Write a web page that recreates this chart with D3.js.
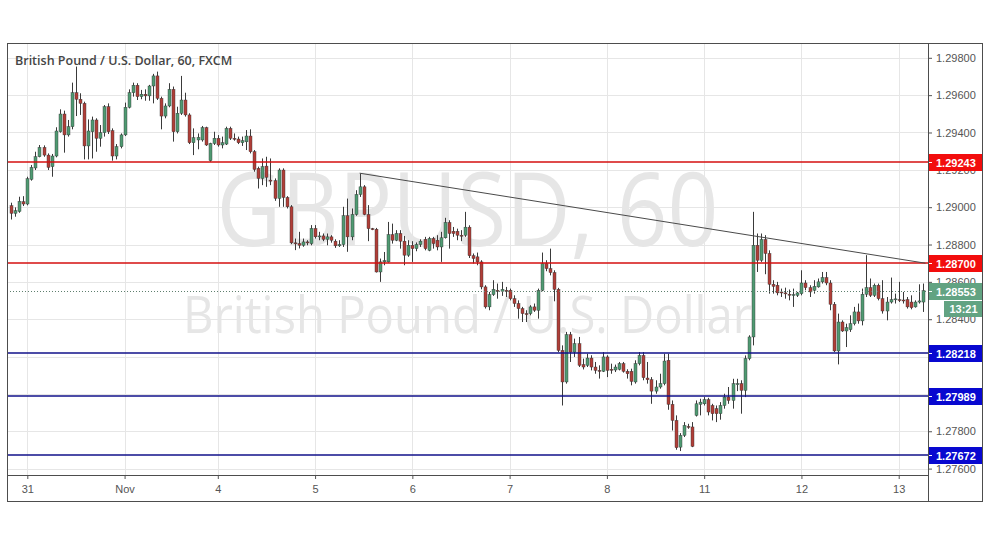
<!DOCTYPE html>
<html><head><meta charset="utf-8">
<script src="https://cdn.jsdelivr.net/npm/d3@7"></script>
<style>body{margin:0;background:#fff;}svg{display:block;}</style>
</head><body>
<svg id="c" width="991" height="539"></svg>
<script>
// ---- DATA (hourly candles, GBPUSD 60, FXCM) ----
const opens=[1.29008,1.28967,1.28977,1.29029,1.29017,1.29149,1.29210,1.29270,1.29320,1.29279,1.29217,1.29274,1.29404,1.29499,1.29387,1.29431,1.29613,1.29578,1.29556,1.29328,1.29404,1.29467,1.29369,1.29399,1.29538,1.29410,1.29274,1.29324,1.29387,1.29535,1.29613,1.29653,1.29592,1.29605,1.29596,1.29649,1.29703,1.29583,1.29488,1.29542,1.29631,1.29404,1.29503,1.29574,1.29494,1.29345,1.29360,1.29360,1.29426,1.29249,1.29341,1.29369,1.29333,1.29338,1.29422,1.29369,1.29365,1.29345,1.29350,1.29381,1.29297,1.29208,1.29154,1.29220,1.29145,1.29142,1.29047,1.29199,1.29052,1.29002,1.28809,1.28805,1.28796,1.28814,1.28805,1.28886,1.28841,1.28846,1.28828,1.28841,1.28818,1.28793,1.28800,1.28954,1.28841,1.28961,1.29068,1.29109,1.28961,1.28885,1.28882,1.28653,1.28707,1.28707,1.28853,1.28823,1.28859,1.28818,1.28743,1.28796,1.28778,1.28800,1.28828,1.28769,1.28832,1.28823,1.28787,1.28836,1.28918,1.28871,1.28871,1.28850,1.28850,1.28893,1.28740,1.28734,1.28707,1.28573,1.28466,1.28532,1.28555,1.28550,1.28555,1.28555,1.28510,1.28484,1.28457,1.28430,1.28430,1.28466,1.28448,1.28555,1.28698,1.28671,1.28650,1.28560,1.28233,1.28064,1.28317,1.28224,1.28269,1.28157,1.28153,1.28192,1.28144,1.28126,1.28121,1.28198,1.28132,1.28128,1.28132,1.28162,1.28121,1.28121,1.28064,1.28162,1.28206,1.28085,1.28076,1.28015,1.28037,1.28055,1.28180,1.27944,1.27858,1.27715,1.27778,1.27826,1.27823,1.27885,1.27944,1.27947,1.27969,1.27938,1.27921,1.27894,1.27938,1.27983,1.27965,1.28051,1.28055,1.28019,1.28189,1.28305,1.28796,1.28716,1.28827,1.28752,1.28587,1.28582,1.28546,1.28541,1.28534,1.28528,1.28528,1.28537,1.28594,1.28569,1.28555,1.28573,1.28600,1.28623,1.28594,1.28480,1.28230,1.28385,1.28337,1.28344,1.28376,1.28439,1.28391,1.28534,1.28569,1.28528,1.28582,1.28510,1.28444,1.28492,1.28505,1.28505,1.28503,1.28505,1.28492,1.28466,1.28492,1.28492];
const highs=[1.29024,1.28999,1.29056,1.29059,1.29163,1.29226,1.29297,1.29333,1.29331,1.29288,1.29285,1.29428,1.29524,1.29517,1.29467,1.29667,1.29753,1.29610,1.29565,1.29470,1.29485,1.29476,1.29440,1.29547,1.29556,1.29422,1.29338,1.29395,1.29560,1.29631,1.29667,1.29664,1.29628,1.29631,1.29655,1.29714,1.29726,1.29592,1.29556,1.29664,1.29646,1.29538,1.29703,1.29613,1.29503,1.29422,1.29395,1.29435,1.29431,1.29345,1.29404,1.29386,1.29378,1.29431,1.29431,1.29395,1.29378,1.29378,1.29413,1.29417,1.29306,1.29217,1.29261,1.29270,1.29261,1.29154,1.29208,1.29208,1.29059,1.29011,1.28832,1.28868,1.28832,1.28823,1.28904,1.28904,1.28868,1.28859,1.28859,1.28850,1.28828,1.28823,1.29002,1.29046,1.28993,1.29091,1.29180,1.29118,1.29011,1.28889,1.28889,1.28725,1.28760,1.28921,1.28912,1.28877,1.28877,1.28846,1.28823,1.28818,1.28811,1.28828,1.28841,1.28841,1.28841,1.28850,1.28868,1.28943,1.28930,1.28894,1.28885,1.28877,1.28975,1.28903,1.28752,1.28757,1.28716,1.28582,1.28546,1.28609,1.28591,1.28600,1.28573,1.28564,1.28528,1.28501,1.28466,1.28448,1.28475,1.28484,1.28564,1.28757,1.28716,1.28778,1.28662,1.28568,1.28260,1.28332,1.28332,1.28296,1.28305,1.28189,1.28215,1.28207,1.28171,1.28153,1.28224,1.28207,1.28162,1.28157,1.28171,1.28171,1.28132,1.28135,1.28180,1.28224,1.28224,1.28171,1.28090,1.28073,1.28108,1.28215,1.28215,1.27965,1.27885,1.27790,1.27849,1.27840,1.27849,1.27965,1.27974,1.27983,1.27979,1.27947,1.27938,1.27956,1.28001,1.28037,1.28081,1.28081,1.28073,1.28206,1.28314,1.28975,1.28859,1.28859,1.28850,1.28769,1.28609,1.28600,1.28564,1.28569,1.28559,1.28564,1.28546,1.28662,1.28609,1.28582,1.28609,1.28618,1.28653,1.28653,1.28609,1.28492,1.28430,1.28394,1.28376,1.28421,1.28466,1.28484,1.28564,1.28743,1.28618,1.28591,1.28591,1.28609,1.28519,1.28623,1.28537,1.28600,1.28546,1.28519,1.28528,1.28501,1.28587,1.28591];
const lows=[1.28934,1.28949,1.28970,1.29006,1.29010,1.29142,1.29199,1.29267,1.29270,1.29199,1.29163,1.29267,1.29399,1.29292,1.29378,1.29417,1.29488,1.29494,1.29256,1.29256,1.29261,1.29297,1.29324,1.29378,1.29392,1.29249,1.29256,1.29315,1.29381,1.29529,1.29592,1.29574,1.29578,1.29570,1.29570,1.29556,1.29574,1.29417,1.29476,1.29535,1.29351,1.29395,1.29494,1.29485,1.29338,1.29279,1.29310,1.29351,1.29328,1.29243,1.29333,1.29324,1.29315,1.29333,1.29360,1.29356,1.29338,1.29328,1.29306,1.29288,1.29190,1.29100,1.29118,1.29109,1.29118,1.29034,1.29002,1.29002,1.28993,1.28802,1.28770,1.28779,1.28788,1.28796,1.28796,1.28832,1.28823,1.28818,1.28796,1.28810,1.28782,1.28787,1.28787,1.28761,1.28823,1.28954,1.29055,1.28957,1.28818,1.28877,1.28650,1.28600,1.28689,1.28703,1.28805,1.28818,1.28778,1.28689,1.28734,1.28707,1.28764,1.28787,1.28769,1.28764,1.28778,1.28769,1.28707,1.28832,1.28778,1.28841,1.28823,1.28818,1.28841,1.28728,1.28698,1.28689,1.28560,1.28457,1.28448,1.28525,1.28510,1.28525,1.28519,1.28501,1.28466,1.28403,1.28385,1.28385,1.28421,1.28439,1.28403,1.28550,1.28657,1.28635,1.28496,1.28224,1.27938,1.28055,1.28171,1.28198,1.28144,1.28131,1.28144,1.28126,1.28108,1.28082,1.28117,1.28090,1.28108,1.28117,1.28126,1.28114,1.28082,1.28046,1.28055,1.28153,1.28073,1.28055,1.27947,1.28001,1.28028,1.28046,1.27915,1.27804,1.27701,1.27694,1.27769,1.27813,1.27715,1.27879,1.27885,1.27938,1.27885,1.27858,1.27849,1.27862,1.27921,1.27947,1.27921,1.28015,1.27894,1.27983,1.28180,1.28260,1.28653,1.28707,1.28641,1.28537,1.28537,1.28528,1.28519,1.28510,1.28501,1.28466,1.28519,1.28528,1.28555,1.28519,1.28537,1.28569,1.28591,1.28582,1.28448,1.28224,1.28158,1.28332,1.28251,1.28332,1.28367,1.28376,1.28367,1.28519,1.28519,1.28519,1.28501,1.28430,1.28394,1.28484,1.28484,1.28492,1.28484,1.28457,1.28453,1.28462,1.28484,1.28439];
const closes=[1.28967,1.28981,1.29031,1.29017,1.29152,1.29213,1.29270,1.29320,1.29279,1.29213,1.29274,1.29408,1.29499,1.29387,1.29431,1.29613,1.29578,1.29556,1.29328,1.29408,1.29467,1.29369,1.29399,1.29538,1.29404,1.29274,1.29324,1.29387,1.29535,1.29613,1.29653,1.29592,1.29605,1.29596,1.29649,1.29703,1.29583,1.29488,1.29542,1.29631,1.29404,1.29503,1.29574,1.29494,1.29345,1.29372,1.29374,1.29426,1.29333,1.29341,1.29369,1.29333,1.29345,1.29422,1.29369,1.29365,1.29345,1.29356,1.29381,1.29297,1.29202,1.29154,1.29217,1.29160,1.29142,1.29047,1.29199,1.29052,1.29002,1.28809,1.28805,1.28796,1.28814,1.28811,1.28886,1.28841,1.28846,1.28828,1.28841,1.28823,1.28793,1.28800,1.28954,1.28841,1.28961,1.29068,1.29109,1.28961,1.28885,1.28882,1.28653,1.28707,1.28714,1.28853,1.28823,1.28859,1.28818,1.28743,1.28796,1.28778,1.28800,1.28818,1.28778,1.28832,1.28805,1.28787,1.28836,1.28918,1.28859,1.28859,1.28850,1.28848,1.28893,1.28740,1.28725,1.28707,1.28573,1.28466,1.28532,1.28560,1.28553,1.28560,1.28551,1.28510,1.28484,1.28457,1.28430,1.28425,1.28466,1.28448,1.28555,1.28698,1.28671,1.28650,1.28560,1.28233,1.28064,1.28317,1.28224,1.28269,1.28153,1.28144,1.28192,1.28144,1.28126,1.28121,1.28198,1.28126,1.28130,1.28144,1.28162,1.28121,1.28108,1.28067,1.28162,1.28206,1.28087,1.28076,1.28015,1.28037,1.28055,1.28176,1.27944,1.27858,1.27712,1.27778,1.27831,1.27823,1.27719,1.27947,1.27956,1.27969,1.27903,1.27894,1.27894,1.27938,1.27983,1.27965,1.28055,1.28055,1.28019,1.28189,1.28305,1.28796,1.28716,1.28827,1.28752,1.28587,1.28576,1.28541,1.28544,1.28539,1.28532,1.28532,1.28541,1.28594,1.28569,1.28546,1.28576,1.28600,1.28623,1.28594,1.28480,1.28230,1.28385,1.28337,1.28355,1.28376,1.28439,1.28391,1.28534,1.28569,1.28528,1.28582,1.28510,1.28444,1.28492,1.28505,1.28509,1.28503,1.28498,1.28466,1.28462,1.28492,1.28498,1.28553];
const dayLabels=["31","Nov","4","5","6","7","8","11","12","13"];
const dayStart=[4,28,51,75,99,123,147,171,195,219];
const priceTicks=[1.298,1.296,1.294,1.292,1.290,1.288,1.286,1.284,1.282,1.280,1.278,1.276];
const hiddenTickLabels=[1.282,1.280]; // fully covered by level tags in the reference
const resistance=[1.29243,1.28700];
const support=[1.28218,1.27989,1.27672];
const trendPts=[[86,1.29182],[225.6,1.28700]];
const lastPrice=1.28553, countdown="13:21";
const titleText="British Pound / U.S. Dollar, 60, FXCM";
const wmSymbol="GBPUSD, 60", wmName="British Pound / U.S. Dollar";

const candles=opens.map((o,i)=>({i,o,h:highs[i],l:lows[i],c:closes[i]}));

// ---- LAYOUT ----
const L=7,T=43,R=928,B=475,OR=983,OB=502;
const svg=d3.select("#c");
const x=d3.scaleLinear().domain([0,225]).range([11.1,11.1+225*4.053]);
const y=d3.scaleLinear().domain([1.276,1.298]).range([468.6,57.8]);
const py=v=>Math.round(y(v))+0.5;
const pyi=v=>Math.round(y(v));

svg.append("defs").append("clipPath").attr("id","pc").append("rect")
  .attr("x",L).attr("y",T).attr("width",R-L).attr("height",B-T);

// grid
const g=svg.append("g").attr("clip-path","url(#pc)");
g.append("g").selectAll("line").data(dayStart).join("line").attr("x1",d=>Math.round(x(d))+0.5).attr("x2",d=>Math.round(x(d))+0.5)
  .attr("y1",T).attr("y2",B).attr("stroke","#e6e6e6");
g.append("g").selectAll("line").data(priceTicks).join("line").attr("y1",py).attr("y2",py)
  .attr("x1",L).attr("x2",R).attr("stroke","#e6e6e6");

// watermark
const cx=(L+R)/2;
g.append("text").attr("x",cx).attr("y",246).attr("text-anchor","middle")
  .attr("font-family","Open Sans, sans-serif").attr("font-size",102).attr("fill","#e6e6e6")
  .attr("textLength",502).attr("lengthAdjust","spacingAndGlyphs").text(wmSymbol);
g.append("text").attr("x",cx).attr("y",333).attr("text-anchor","middle")
  .attr("font-family","Open Sans, sans-serif").attr("font-size",52).attr("fill","#e6e6e6")
  .attr("textLength",569).attr("lengthAdjust","spacingAndGlyphs").text(wmName);

// candles
const up="#4f9a72", dn="#b03e38", wick="#3a3a3a";
const cg=g.append("g");
cg.append("g").selectAll("line").data(candles).join("line")
  .attr("x1",d=>Math.round(x(d.i))+0.5).attr("x2",d=>Math.round(x(d.i))+0.5)
  .attr("y1",d=>y(d.h)).attr("y2",d=>y(d.l)).attr("stroke",wick).attr("stroke-width",1);
cg.append("g").selectAll("rect").data(candles).join("rect")
  .attr("x",d=>Math.round(x(d.i))-1).attr("width",3)
  .attr("y",d=>y(Math.max(d.o,d.c))).attr("height",d=>Math.max(1,Math.abs(y(d.o)-y(d.c))))
  .attr("fill",d=>d.c>=d.o?up:dn).attr("stroke","#333").attr("stroke-width",0.4);

// last price dotted line
g.append("line").attr("x1",L).attr("x2",R).attr("y1",py(lastPrice)).attr("y2",py(lastPrice))
  .attr("stroke","#5f7f6e").attr("stroke-dasharray","1,2");

// levels
g.append("g").selectAll("line").data(resistance).join("line").attr("x1",L).attr("x2",R)
  .attr("y1",pyi).attr("y2",pyi).attr("stroke","#d40f0f").attr("stroke-width",1.6);
g.append("g").selectAll("line").data(support).join("line").attr("x1",L).attr("x2",R)
  .attr("y1",pyi).attr("y2",pyi).attr("stroke","#10108a").attr("stroke-width",1.6);
// trendline
g.append("line").attr("x1",x(trendPts[0][0])).attr("y1",y(trendPts[0][1]))
  .attr("x2",x(trendPts[1][0])).attr("y2",y(trendPts[1][1])).attr("stroke","#4a4a4a").attr("stroke-width",1);

// title
svg.append("text").attr("x",15).attr("y",65).attr("font-family","Open Sans, sans-serif")
  .attr("font-weight",600).attr("font-size",12.5).attr("fill","#454545").text(titleText);

// right axis
const ra=svg.append("g").attr("transform",`translate(${R},0)`)
  .call(d3.axisRight(y).tickValues(priceTicks)
    .tickFormat(d=>hiddenTickLabels.includes(d)?"":d3.format(".5f")(d)).tickSize(4).tickPadding(4));
ra.select(".domain").remove();
ra.selectAll("line").attr("stroke","#555");
ra.selectAll("text").attr("font-family","Liberation Sans, Arial, sans-serif").attr("font-size",11).attr("fill","#555");

// bottom axis
const ba=svg.append("g").attr("transform",`translate(0,${B})`)
  .call(d3.axisBottom(x).tickValues(dayStart).tickFormat((d,i)=>dayLabels[i]).tickSize(4).tickPadding(6));
ba.select(".domain").remove();
ba.selectAll("line").attr("stroke","#555");
ba.selectAll("text").attr("font-family","Liberation Sans, Arial, sans-serif").attr("font-size",11).attr("fill","#555");

// price labels
function tag(val,color){
  const yy=Math.round(y(val));
  svg.append("rect").attr("x",R).attr("y",yy-8).attr("width",OR-R).attr("height",17).attr("fill",color);
  svg.append("line").attr("x1",R).attr("x2",R+4).attr("y1",yy+0.5).attr("y2",yy+0.5).attr("stroke","#fff");
  svg.append("text").attr("x",R+8).attr("y",yy+4.5).attr("font-family","Liberation Sans, Arial, sans-serif")
    .attr("font-weight","bold").attr("font-size",11).attr("fill","#fff").text(d3.format(".5f")(val));
}
resistance.forEach(v=>tag(v,"#f20d0d"));
support.forEach(v=>tag(v,"#0808d0"));
tag(lastPrice,"#62a382");
const ly=Math.round(y(lastPrice));
svg.append("rect").attr("x",R+16).attr("y",ly+10).attr("width",OR-R-16).attr("height",16).attr("fill","#62a382");
svg.append("text").attr("x",(R+16+OR)/2).attr("y",ly+22).attr("text-anchor","middle")
  .attr("font-family","Liberation Sans, Arial, sans-serif").attr("font-weight","bold").attr("font-size",11).attr("fill","#fff").text(countdown);

// frame
svg.append("rect").attr("x",L+0.5).attr("y",T+0.5).attr("width",OR-L-1).attr("height",OB-T-1)
  .attr("fill","none").attr("stroke","#4d4d4d");
svg.append("line").attr("x1",R+0.5).attr("x2",R+0.5).attr("y1",T).attr("y2",OB).attr("stroke","#4d4d4d");
svg.append("line").attr("x1",L).attr("x2",R).attr("y1",B+0.5).attr("y2",B+0.5).attr("stroke","#4d4d4d");
</script>
</body></html>
